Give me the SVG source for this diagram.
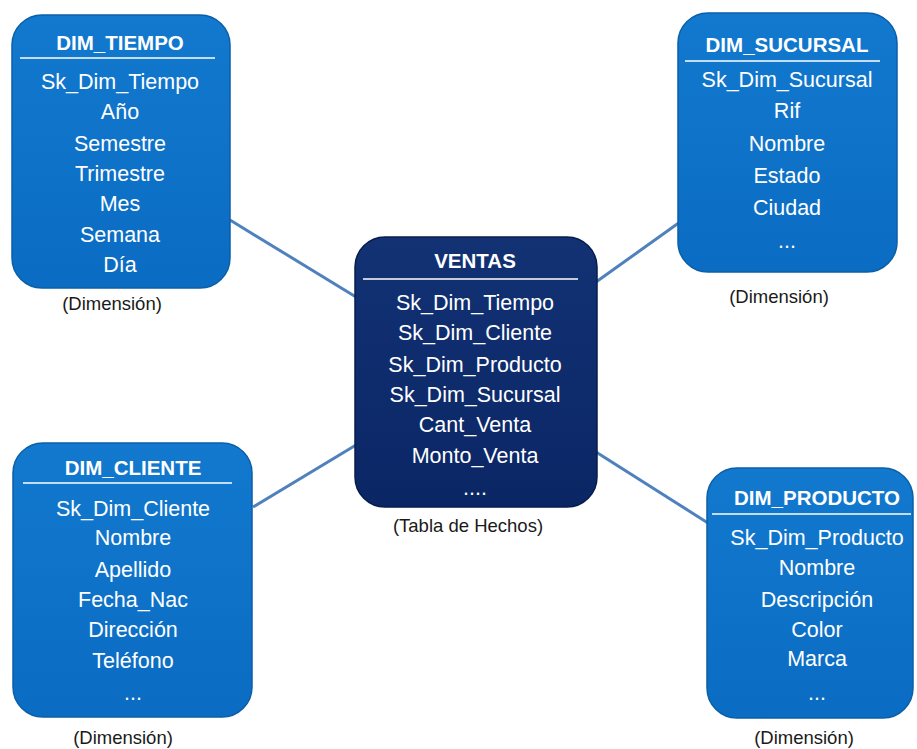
<svg xmlns="http://www.w3.org/2000/svg" width="917" height="749" viewBox="0 0 917 749">
  <defs>
    <linearGradient id="gDim" x1="0" y1="0" x2="0" y2="1">
      <stop offset="0" stop-color="#1279cf"/>
      <stop offset="1" stop-color="#0a6cc2"/>
    </linearGradient>
    <linearGradient id="gFact" x1="0" y1="0" x2="0" y2="1">
      <stop offset="0" stop-color="#123274"/>
      <stop offset="1" stop-color="#0b2665"/>
    </linearGradient>
  </defs>
  <style>
    .dim { fill: url(#gDim); stroke: #0a5fa8; stroke-width: 1.5; }
    .fact { fill: url(#gFact); stroke: #081c4c; stroke-width: 1.5; }
    .rule { stroke: #ffffff; stroke-width: 1.5; }
    .hdr { font-family: "Liberation Sans", Arial, sans-serif; font-size: 20.5px; font-weight: bold; fill: #ffffff; text-anchor: middle; }
    .row { font-family: "Liberation Sans", Arial, sans-serif; font-size: 21.5px; fill: #ffffff; text-anchor: middle; }
    .cap { font-family: "Liberation Sans", Arial, sans-serif; font-size: 18.5px; fill: #1a1a1a; text-anchor: middle; }
    .link { stroke: #4f81bd; stroke-width: 3; fill: none; }
  </style>

  <!-- connectors between the fact table and its dimensions -->
  <g id="connectors">
    <line class="link" x1="230" y1="220" x2="356" y2="297"/>
    <line class="link" x1="596" y1="282" x2="680" y2="222"/>
    <line class="link" x1="253" y1="507" x2="356" y2="445"/>
    <line class="link" x1="596" y1="452" x2="708" y2="523"/>
  </g>

  <!-- DIM_TIEMPO -->
  <g id="dim_tiempo">
    <rect class="dim" x="12" y="15" width="218" height="273" rx="30"/>
    <text class="hdr" x="120" y="50">DIM_TIEMPO</text>
    <line class="rule" x1="20" y1="58" x2="215" y2="58"/>
    <text class="row" x="120" y="89">Sk_Dim_Tiempo</text>
    <text class="row" x="120" y="119">Año</text>
    <text class="row" x="120" y="151">Semestre</text>
    <text class="row" x="120" y="181">Trimestre</text>
    <text class="row" x="120" y="211">Mes</text>
    <text class="row" x="120" y="242">Semana</text>
    <text class="row" x="120" y="272">Día</text>
    <text class="cap" x="112" y="310">(Dimensión)</text>
  </g>

  <!-- DIM_SUCURSAL -->
  <g id="dim_sucursal">
    <rect class="dim" x="678" y="13" width="219" height="259" rx="30"/>
    <text class="hdr" x="787" y="52">DIM_SUCURSAL</text>
    <line class="rule" x1="685" y1="61" x2="880" y2="61"/>
    <text class="row" x="787" y="87">Sk_Dim_Sucursal</text>
    <text class="row" x="787" y="118">Rif</text>
    <text class="row" x="787" y="151">Nombre</text>
    <text class="row" x="787" y="183">Estado</text>
    <text class="row" x="787" y="215">Ciudad</text>
    <text class="row" x="787" y="248">...</text>
    <text class="cap" x="779" y="303">(Dimensión)</text>
  </g>

  <!-- VENTAS (fact table) -->
  <g id="ventas">
    <rect class="fact" x="355" y="237" width="242" height="270" rx="30"/>
    <text class="hdr" x="475" y="268">VENTAS</text>
    <line class="rule" x1="363" y1="279" x2="578" y2="279"/>
    <text class="row" x="475" y="310">Sk_Dim_Tiempo</text>
    <text class="row" x="475" y="340">Sk_Dim_Cliente</text>
    <text class="row" x="475" y="372">Sk_Dim_Producto</text>
    <text class="row" x="475" y="402">Sk_Dim_Sucursal</text>
    <text class="row" x="475" y="432">Cant_Venta</text>
    <text class="row" x="475" y="463">Monto_Venta</text>
    <text class="row" x="475" y="495">....</text>
    <text class="cap" x="468" y="532">(Tabla de Hechos)</text>
  </g>

  <!-- DIM_CLIENTE -->
  <g id="dim_cliente">
    <rect class="dim" x="13" y="443" width="239" height="274" rx="30"/>
    <text class="hdr" x="133" y="475">DIM_CLIENTE</text>
    <line class="rule" x1="23" y1="483" x2="232" y2="483"/>
    <text class="row" x="133" y="516">Sk_Dim_Cliente</text>
    <text class="row" x="133" y="545">Nombre</text>
    <text class="row" x="133" y="577">Apellido</text>
    <text class="row" x="133" y="607">Fecha_Nac</text>
    <text class="row" x="133" y="637">Dirección</text>
    <text class="row" x="133" y="668">Teléfono</text>
    <text class="row" x="133" y="700">...</text>
    <text class="cap" x="123" y="744">(Dimensión)</text>
  </g>

  <!-- DIM_PRODUCTO -->
  <g id="dim_producto">
    <rect class="dim" x="707" y="468" width="206" height="250" rx="30"/>
    <text class="hdr" x="817" y="505">DIM_PRODUCTO</text>
    <line class="rule" x1="712" y1="514" x2="911" y2="514"/>
    <text class="row" x="817" y="545">Sk_Dim_Producto</text>
    <text class="row" x="817" y="575">Nombre</text>
    <text class="row" x="817" y="607">Descripción</text>
    <text class="row" x="817" y="637">Color</text>
    <text class="row" x="817" y="666">Marca</text>
    <text class="row" x="817" y="700">...</text>
    <text class="cap" x="804" y="744">(Dimensión)</text>
  </g>
</svg>
